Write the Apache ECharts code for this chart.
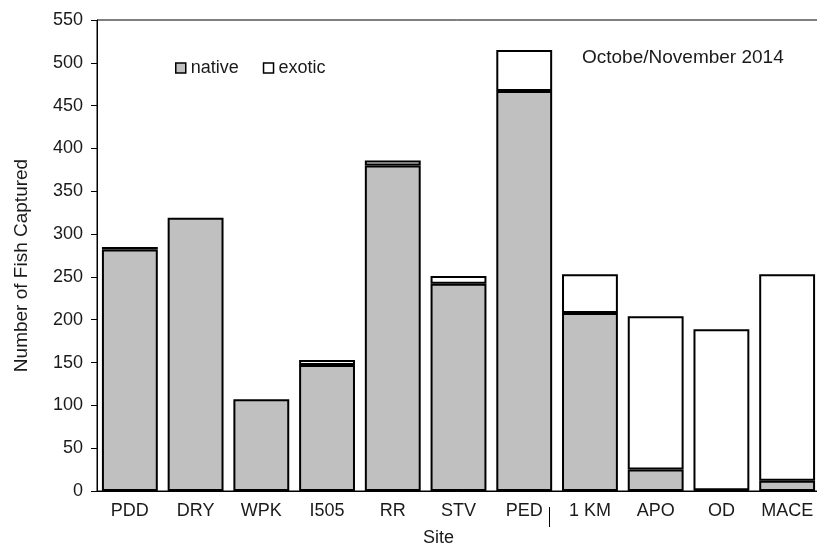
<!DOCTYPE html>
<html>
<head>
<meta charset="utf-8">
<script src="https://cdn.jsdelivr.net/npm/echarts@6/dist/echarts.min.js"></script>
<style>
	html, body { margin: 0; padding: 0; background: #fff; }
	#chart-fish-div { width: 817px; height: 548px; }
</style>
</head>
<body>
<div id="chart-fish-div"></div>
<script>
// 站点
var g_sites = ["PDD", "DRY", "WPK", "I505", "RR", "STV", "PED", "1 KM", "APO", "OD", "MACE"];
// 本地鱼数量
var g_native = [282, 319, 107, 147, 380, 242, 467, 208, 25, 1, 12];
// 外来鱼数量
var g_exotic = [3, 0, 0, 6, 6, 9, 48, 45, 179, 188, 241];

var g_font = "Liberation Sans, Arial, sans-serif";

// 零值不画（避免堆叠顶部多出一条边框）
function skip_zero(arr) {
	return arr.map(function (v) { return v === 0 ? "-" : v; });
}

var g_chart_fish = echarts.init(document.getElementById("chart-fish-div"));

g_chart_fish.setOption({
	animation: false,
	textStyle: { fontFamily: g_font },
	title: {
		text: "Octobe/November 2014",
		left: 582,
		top: 48,
		padding: 0,
		textStyle: { fontSize: 19, fontWeight: "normal", color: "#1a1a1a", fontFamily: g_font }
	},
	legend: {
		left: 175,
		top: 59,
		itemWidth: 10,
		itemHeight: 10,
		itemGap: 24,
		padding: 0,
		icon: "rect",
		textStyle: { fontSize: 18, color: "#1a1a1a", fontFamily: g_font },
		data: [
			{ name: "native", itemStyle: { color: "#c0c0c0", borderColor: "#000", borderWidth: 1.5 } },
			{ name: "exotic", itemStyle: { color: "#fff", borderColor: "#000", borderWidth: 1.5 } }
		]
	},
	grid: {
		left: 97,
		width: 723,
		top: 20,
		bottom: 57,
		outerBoundsMode: "none",
		containLabel: false,
		show: true,
		borderColor: "#000",
		borderWidth: 1
	},
	xAxis: {
		type: "category",
		data: g_sites,
		axisLine: { lineStyle: { color: "#000", width: 1 } },
		axisTick: { length: 6, lineStyle: { color: "#000" } },
		axisLabel: { fontSize: 18, color: "#1a1a1a", margin: 11, fontFamily: g_font, interval: 0 }
	},
	yAxis: {
		type: "value",
		min: 0,
		max: 550,
		interval: 50,
		name: "Number of Fish Captured",
		nameLocation: "middle",
		nameGap: 66,
		nameTextStyle: { fontSize: 19, color: "#1a1a1a", fontFamily: g_font, padding: [0, 20, 0, 0] },
		splitLine: { show: false },
		axisLine: { show: true, lineStyle: { color: "#000", width: 1 } },
		axisTick: { show: true, length: 6, lineStyle: { color: "#000" } },
		axisLabel: { fontSize: 18, color: "#1a1a1a", margin: 14, fontFamily: g_font }
	},
	graphic: [
		{
			type: "text",
			left: 423,
			top: 529,
			style: { text: "Site", fontSize: 18, fill: "#1a1a1a", fontFamily: g_font }
		},
		{
			// 原图 PED 标签旁的竖线
			type: "line",
			shape: { x1: 549.5, y1: 507, x2: 549.5, y2: 527 },
			style: { stroke: "#000", lineWidth: 1 }
		}
	],
	series: [
		{
			name: "native",
			type: "bar",
			stack: "fish",
			barCategoryGap: "15%",
			data: skip_zero(g_native),
			itemStyle: { color: "#c0c0c0", borderColor: "#000", borderWidth: 2 }
		},
		{
			name: "exotic",
			type: "bar",
			stack: "fish",
			barCategoryGap: "15%",
			data: skip_zero(g_exotic),
			itemStyle: { color: "#fff", borderColor: "#000", borderWidth: 2 }
		}
	]
});
</script>
</body>
</html>
